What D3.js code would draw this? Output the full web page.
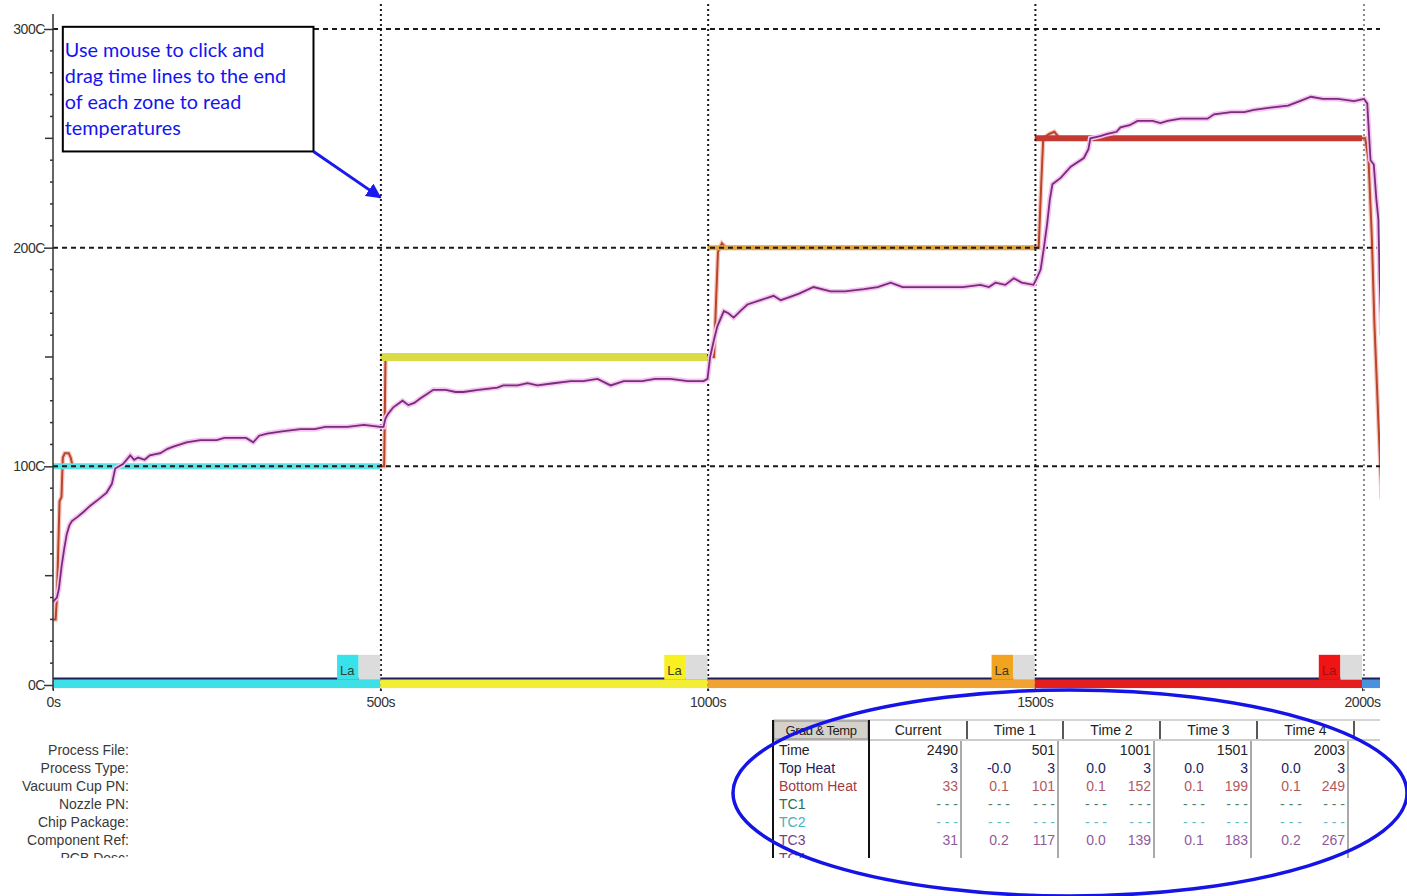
<!DOCTYPE html>
<html>
<head>
<meta charset="utf-8">
<script src="https://cdn.jsdelivr.net/npm/d3@7"></script>
<style>
    body { margin: 0; background: #fff; }
    svg { display: block; }
    .sys { font-family: "Liberation Sans", Arial, sans-serif; font-size: 14px; fill: #333; }
</style>
</head>
<body>
<div id="chart"></div>
<script>
    // zones of the profile
    var zoneStart = [0, 500, 1000, 1500, 2000];
    var zoneEnd = [500, 1000, 1500, 2000, 2030];
    var zoneSet = [100, 150, 200, 250];
    var zoneColor = ["#3ce0e6", "#f2ee36", "#f0a232", "#e41e1e", "#4a92dc"];
    var bandColor = ["#5ee0e4", "#d9dc45", "#e4a43e", "#c43a32"];
    var laColor = ["#38e2ea", "#f8f020", "#f2a420", "#f01414"];
    var timeMarks = [501, 1001, 1501, 2003];

    var xTicks = [0, 500, 1000, 1500, 2000];
    var yTicks = [0, 100, 200, 300];
    var topHeat = [[0, 3], [2030, 3]];

    // bottom heater temperature [s, C]
    var bottomHeat = [[0, 30], [4, 30], [6, 40], [8, 62], [10, 84], [13, 86], [15, 104], [18, 106],
        [24, 106], [27, 104], [30, 100], [506, 100], [508, 150], [1010, 150], [1013, 175],
        [1016, 198], [1022, 202], [1028, 200], [1506, 200], [1510, 230], [1513, 250],
        [1522, 252], [1530, 253], [1538, 250], [2005, 250], [2010, 240], [2015, 205],
        [2019, 165], [2025, 121], [2030, 85]];

    // TC3 thermocouple [s, C]
    var tc3 = [[0, 38], [3, 39], [6, 40], [9, 44], [13, 54], [17, 62], [21, 69], [25, 73], [29, 75],
        [38, 77], [46, 79], [57, 82], [70, 85], [82, 88], [90, 92], [95, 99], [107, 101], [118, 105],
        [124, 103], [130, 104], [140, 103], [148, 105], [164, 106], [175, 108], [184, 109], [204, 111],
        [225, 112], [250, 112], [262, 113], [275, 113], [295, 113], [306, 111], [315, 114], [327, 115],
        [350, 116], [378, 117], [400, 117], [416, 118], [428, 118], [450, 118], [475, 119], [500, 118],
        [505, 118], [508, 122], [512, 124], [520, 127], [534, 130], [543, 128], [552, 129],
        [561, 131], [571, 133], [581, 135], [600, 135], [615, 134], [627, 134], [650, 135], [679, 136],
        [688, 137], [710, 137], [725, 138], [740, 137], [765, 138], [791, 139], [810, 139], [832, 140],
        [852, 137], [872, 139], [900, 139], [920, 140], [943, 140], [970, 139], [994, 139], [1000, 140],
        [1004, 150], [1010, 158], [1015, 164], [1025, 171], [1032, 170], [1040, 168], [1050, 171],
        [1061, 174], [1081, 176], [1101, 178], [1112, 176], [1122, 177], [1140, 179], [1162, 182], [1188, 180],
        [1210, 180], [1239, 181], [1260, 182], [1280, 184], [1298, 182], [1315, 182], [1340, 182], [1367, 182],
        [1390, 182], [1417, 183], [1430, 182], [1440, 184], [1455, 183], [1468, 186], [1480, 184], [1498, 183],
        [1503, 186], [1509, 190], [1514, 200], [1519, 211], [1523, 222], [1527, 229], [1540, 232],
        [1555, 237], [1575, 241], [1582, 245], [1585, 250], [1600, 251], [1611, 252], [1625, 253],
        [1631, 255], [1645, 256], [1657, 258], [1680, 258], [1692, 257], [1703, 258], [1723, 259], [1745, 259],
        [1764, 259], [1774, 261], [1800, 262], [1820, 262], [1835, 263], [1860, 264], [1887, 265],
        [1905, 267], [1922, 269], [1940, 268], [1963, 268], [1988, 267], [2003, 268], [2008, 266],
        [2013, 240], [2018, 238], [2022, 222], [2025, 213], [2027, 185], [2030, 160]];

    // info panel
    var infoLabels = ["Process File:", "Process Type:", "Vacuum Cup PN:", "Nozzle PN:", "Chip Package:", "Component Ref:", "PCB Desc:"];
    var tableCols = ["Current", "Time 1", "Time 2", "Time 3", "Time 4"];
    var rowNames = ["Time", "Top Heat", "Bottom Heat", "TC1", "TC2", "TC3", "TC4"];
    var rowColors = ["#222", "#22225e", "#a23c44", "#2a6e58", "#48b0bc", "#7c3c8c", "#7c3c8c"];
    var currentVals = ["2490", "3", "33", "---", "---", "31", ""];
    var gradVals = [
        ["", "-0.0", "0.1", "---", "---", "0.2", ""],
        ["", "0.0", "0.1", "---", "---", "0.0", ""],
        ["", "0.0", "0.1", "---", "---", "0.1", ""],
        ["", "0.0", "0.1", "---", "---", "0.2", ""]
    ];
    var timeVals = [
        ["501", "3", "101", "---", "---", "117", ""],
        ["1001", "3", "152", "---", "---", "139", ""],
        ["1501", "3", "199", "---", "---", "183", ""],
        ["2003", "3", "249", "---", "---", "267", ""]
    ];
    var noteLines = ["Use mouse to click and", "drag time lines to the end", "of each zone to read", "temperatures"];

    var W = 1407, H = 896;
    var x = d3.scaleLinear().domain([0, 2000]).range([53, 1362]);
    var y = d3.scaleLinear().domain([0, 300]).range([685, 29]);
    var plotRight = 1380;

    var svg = d3.select("#chart").append("svg")
        .attr("width", W)
        .attr("height", H);

    var defs = svg.append("defs");
    defs.append("clipPath").attr("id", "plotClip")
        .append("rect").attr("x", 53).attr("y", 0).attr("width", plotRight - 53).attr("height", 720);
    defs.append("clipPath").attr("id", "lowClip")
        .append("rect").attr("x", 0).attr("y", 700).attr("width", plotRight).attr("height", 158);

    var plot = svg.append("g").attr("clip-path", "url(#plotClip)");

    var line = d3.line()
        .x(function (d) { return x(d[0]); })
        .y(function (d) { return y(d[1]); });

    // bottom heat (under the setpoint bands)
    plot.append("path").datum(bottomHeat)
        .attr("d", line).attr("fill", "none")
        .attr("stroke", "#f6c6be").attr("stroke-width", 4.5);
    plot.append("path").datum(bottomHeat)
        .attr("d", line).attr("fill", "none")
        .attr("stroke", "#b8452c").attr("stroke-width", 2);

    // setpoint bands
    plot.selectAll("line.band")
        .data(zoneSet)
        .enter().append("line")
        .attr("class", "band")
        .attr("x1", function (d, i) { return x(zoneStart[i]); })
        .attr("x2", function (d, i) { return x(zoneEnd[i]); })
        .attr("y1", function (d) { return y(d); })
        .attr("y2", function (d) { return y(d); })
        .style("stroke", function (d, i) { return bandColor[i]; })
        .style("stroke-width", function (d, i) { return [6, 8, 5, 6][i]; });

    // grid
    plot.selectAll("line.hgrid")
        .data([100, 200, 300])
        .enter().append("line")
        .attr("class", "hgrid")
        .attr("x1", x(0)).attr("x2", plotRight)
        .attr("y1", function (d) { return y(d); })
        .attr("y2", function (d) { return y(d); })
        .style("stroke", "#1a1a1a").style("stroke-width", 2)
        .style("stroke-dasharray", "5,4");

    plot.selectAll("line.tmark")
        .data(timeMarks)
        .enter().append("line")
        .attr("class", "tmark")
        .attr("x1", function (d) { return x(d); })
        .attr("x2", function (d) { return x(d); })
        .attr("y1", 4).attr("y2", y(-4))
        .style("stroke", function (d, i) { return i === 3 ? "#8a8a8a" : "#1a1a1a"; })
        .style("stroke-width", 2)
        .style("stroke-dasharray", "2,3");

    // TC3
    plot.append("path").datum(tc3)
        .attr("d", line).attr("fill", "none")
        .attr("stroke", "#f6c4f0").attr("stroke-width", 5);
    plot.append("path").datum(tc3)
        .attr("d", line).attr("fill", "none")
        .attr("stroke", "#7a2c7c").attr("stroke-width", 1.8);

    // zone bars + top heat
    plot.selectAll("rect.zone")
        .data(zoneStart)
        .enter().append("rect")
        .attr("class", "zone")
        .attr("x", function (d) { return x(d); })
        .attr("width", function (d, i) { return x(zoneEnd[i]) - x(d); })
        .attr("y", y(2.8)).attr("height", y(-1.4) - y(2.8))
        .style("fill", function (d, i) { return zoneColor[i]; });

    plot.append("path").datum(topHeat)
        .attr("d", line).attr("fill", "none")
        .attr("stroke", "#1e1e5a").attr("stroke-width", 2);

    var la = plot.selectAll("g.la")
        .data(zoneEnd.slice(0, 4))
        .enter().append("g").attr("class", "la");
    la.append("rect")
        .attr("x", function (d) { return x(d - 66); })
        .attr("width", x(33) - x(0))
        .attr("y", y(13.8)).attr("height", y(2.4) - y(13.8))
        .style("fill", function (d, i) { return laColor[i]; });
    la.append("rect")
        .attr("x", function (d) { return x(d - 33); })
        .attr("width", x(33) - x(0))
        .attr("y", y(13.8)).attr("height", y(2.4) - y(13.8))
        .style("fill", "#dcdcdc");
    la.append("text")
        .attr("class", "sys")
        .attr("x", function (d) { return x(d - 66) + 3; })
        .attr("y", y(4.5))
        .style("font-size", "13px")
        .style("fill", function (d, i) { return i === 3 ? "#a01010" : "#3a3a2a"; })
        .text("La");

    // y axis
    svg.append("line")
        .attr("x1", x(0)).attr("x2", x(0))
        .attr("y1", 14).attr("y2", y(-2.5))
        .style("stroke", "#333").style("stroke-width", 1.5);

    var minor = d3.range(0, 301, 10).filter(function (v) { return v % 100 !== 0; });
    svg.append("g").selectAll("line")
        .data(minor)
        .enter().append("line")
        .attr("x1", function (d) { return x(0) - (d % 50 === 0 ? 8 : 3); })
        .attr("x2", x(0))
        .attr("y1", function (d) { return y(d); })
        .attr("y2", function (d) { return y(d); })
        .style("stroke", "#333").style("stroke-width", 1.5);

    var yAxis = svg.append("g")
        .attr("transform", "translate(" + x(0) + ",0)")
        .call(d3.axisLeft(y).tickValues(yTicks).tickSize(9).tickSizeOuter(0)
            .tickFormat(function (d) { return d + "C"; }));
    yAxis.select(".domain").remove();
    yAxis.selectAll("line").style("stroke", "#333").style("stroke-width", 1.5);
    yAxis.selectAll("text").attr("class", "sys").attr("x", -8).style("font-size", "14px")
        .style("letter-spacing", "-0.4px");

    var xAxis = svg.append("g")
        .attr("transform", "translate(0," + y(-1.4) + ")")
        .call(d3.axisBottom(x).tickValues(xTicks).tickSize(3).tickSizeOuter(0)
            .tickFormat(function (d) { return d + "s"; }));
    xAxis.select(".domain").remove();
    xAxis.selectAll("line").style("stroke", "#333");
    xAxis.selectAll("text").attr("class", "sys").attr("dy", "0.95em").style("font-size", "14px")
        .style("letter-spacing", "-0.4px");

    // note box + arrow
    var note = svg.append("g");
    note.append("rect")
        .attr("x", x(15)).attr("y", y(301))
        .attr("width", x(398) - x(15)).attr("height", y(244) - y(301))
        .style("fill", "#fff").style("stroke", "#000").style("stroke-width", 2);
    note.selectAll("text")
        .data(noteLines)
        .enter().append("text")
        .attr("x", x(15) + 2)
        .attr("y", function (d, i) { return y(301) + 30 + i * 26; })
        .style("font-family", "Lato, 'Open Sans', sans-serif")
        .style("font-size", "19.8px")
        .style("fill", "#1414f0")
        .text(function (d) { return d; });

    defs.append("marker").attr("id", "arrow")
        .attr("viewBox", "0 0 10 10").attr("refX", 9).attr("refY", 5)
        .attr("markerWidth", 5).attr("markerHeight", 5).attr("orient", "auto")
        .append("path").attr("d", "M0,0L10,5L0,10z").style("fill", "#1a1af0");
    note.append("line")
        .attr("x1", x(398)).attr("y1", y(244))
        .attr("x2", x(500)).attr("y2", y(223))
        .style("stroke", "#1a1af0").style("stroke-width", 3)
        .attr("marker-end", "url(#arrow)");

    // lower panel
    var low = svg.append("g").attr("clip-path", "url(#lowClip)");
    var rowY = function (i) { return 750 + i * 18; };

    low.selectAll("text.info")
        .data(infoLabels)
        .enter().append("text")
        .attr("class", "sys")
        .attr("x", 129).attr("y", function (d, i) { return rowY(i) + 5; })
        .attr("text-anchor", "end")
        .style("fill", "#3a3a3a")
        .text(function (d) { return d; });

    var tLeft = 773, gradRight = 869;
    var colBounds = [869, 967, 1063, 1160, 1257, 1354];
    var valRight = [959, 1056, 1152, 1249, 1346];
    var gradMid = [999, 1096, 1194, 1291];

    var table = low.append("g");
    table.append("line").attr("x1", tLeft).attr("x2", plotRight).attr("y1", 720).attr("y2", 720)
        .style("stroke", "#aaa");
    table.append("line").attr("x1", tLeft).attr("x2", plotRight).attr("y1", 740).attr("y2", 740)
        .style("stroke", "#999");
    table.append("rect").attr("x", tLeft + 1).attr("y", 721).attr("width", gradRight - tLeft - 2).attr("height", 18)
        .style("fill", "#d6d2ca").style("stroke", "#888");
    table.append("text").attr("class", "sys").attr("x", (tLeft + gradRight) / 2).attr("y", 735)
        .attr("text-anchor", "middle").style("fill", "#222")
        .style("font-size", "13px").style("letter-spacing", "-0.5px").text("Grad & Temp");
    table.append("line").attr("x1", tLeft).attr("x2", tLeft).attr("y1", 720).attr("y2", 860)
        .style("stroke", "#111").style("stroke-width", 2);
    table.append("line").attr("x1", gradRight).attr("x2", gradRight).attr("y1", 720).attr("y2", 860)
        .style("stroke", "#111").style("stroke-width", 2);
    table.selectAll("line.hsep")
        .data(colBounds.slice(1))
        .enter().append("line")
        .attr("x1", function (d) { return d; }).attr("x2", function (d) { return d; })
        .attr("y1", 721).attr("y2", 739)
        .style("stroke", "#222").style("stroke-width", 1.5);
    table.selectAll("line.vsep")
        .data(valRight)
        .enter().append("line")
        .attr("x1", function (d) { return d + 2; }).attr("x2", function (d) { return d + 2; })
        .attr("y1", 741).attr("y2", 860)
        .style("stroke", "#555");
    table.selectAll("text.colhead")
        .data(tableCols)
        .enter().append("text")
        .attr("class", "sys")
        .attr("x", function (d, i) { return (colBounds[i] + colBounds[i + 1]) / 2; })
        .attr("y", 735).attr("text-anchor", "middle")
        .style("fill", "#222")
        .text(function (d) { return d; });

    table.selectAll("text.rowname")
        .data(rowNames)
        .enter().append("text")
        .attr("class", "sys")
        .attr("x", tLeft + 6).attr("y", function (d, i) { return rowY(i) + 5; })
        .style("fill", function (d, i) { return rowColors[i]; })
        .text(function (d) { return d; });

    function cellText(v) { return v === "---" ? "- - -" : v; }

    var cols = [currentVals].concat(timeVals);
    cols.forEach(function (vals, c) {
        table.selectAll(null)
            .data(vals)
            .enter().append("text")
            .attr("class", "sys")
            .attr("x", valRight[c] - 1)
            .attr("y", function (d, i) { return rowY(i) + 5; })
            .attr("text-anchor", "end")
            .style("fill", function (d, i) { return rowColors[i]; })
            .style("opacity", function (d, i) { return i >= 2 ? 0.85 : 1; })
            .text(cellText);
    });
    gradVals.forEach(function (vals, c) {
        table.selectAll(null)
            .data(vals)
            .enter().append("text")
            .attr("class", "sys")
            .attr("x", gradMid[c])
            .attr("y", function (d, i) { return rowY(i) + 5; })
            .attr("text-anchor", "middle")
            .style("fill", function (d, i) { return rowColors[i]; })
            .style("opacity", function (d, i) { return i >= 2 ? 0.85 : 1; })
            .text(cellText);
    });

    // highlight ellipse around the table
    svg.append("ellipse")
        .attr("cx", 1070).attr("cy", 793).attr("rx", 337).attr("ry", 103)
        .style("fill", "none").style("stroke", "#1414e6").style("stroke-width", 3.5);
</script>
</body>
</html>
